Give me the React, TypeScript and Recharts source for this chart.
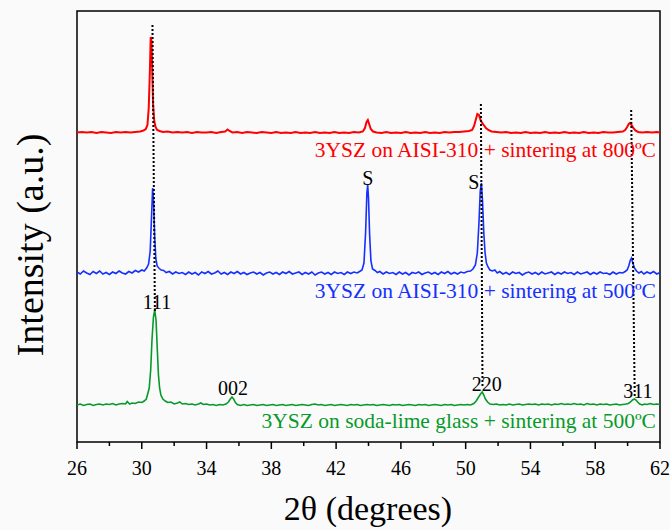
import { LineChart, Line, XAxis, YAxis, ReferenceLine, ReferenceDot, ReferenceArea, Label } from "recharts";

// [2θ, intensity above the trace's own baseline]
const redPattern: [number, number][] = [
  [26.0, 0.5], [26.3, 1], [26.6, 0.5], [26.9, 1], [27.2, 0], [27.5, 1], [27.8, 0.5], [28.1, 0], [28.4, 1], [28.7, 0.5],
  [29.0, 1], [29.3, 0.5], [29.6, 1], [29.9, 1.5], [30.1, 2.5], [30.25, 4], [30.35, 8], [30.43, 25], [30.5, 62], [30.55, 96],
  [30.6, 92], [30.65, 60], [30.7, 28], [30.77, 12], [30.85, 6], [30.95, 3], [31.1, 2], [31.3, 1], [31.6, 1.5], [31.9, 0.5],
  [32.2, 1], [32.5, 0.5], [32.8, 1], [33.1, 0], [33.4, 1], [33.7, 0.5], [34.0, 0.5], [34.3, 1], [34.6, 0], [34.9, 1],
  [35.15, 1.5], [35.3, 3.5], [35.42, 2], [35.6, 0.5], [35.9, 1], [36.2, 0], [36.5, 1], [36.8, 0.5], [37.1, 0], [37.4, 1],
  [37.7, 0.5], [38.0, 0], [38.3, 1], [38.6, 0], [38.9, 0.5], [39.2, 0], [39.5, 1], [39.8, 0], [40.1, 0.5], [40.4, 0],
  [40.7, 1], [41.0, 0], [41.3, 0.5], [41.6, 0], [41.9, 1], [42.2, 0], [42.5, 0.5], [42.8, 0], [43.1, 1], [43.4, 0.5],
  [43.65, 1.5], [43.78, 5], [43.88, 11], [43.96, 13], [44.04, 9], [44.14, 4], [44.28, 1.5], [44.5, 0.5], [44.8, 0], [45.1, 1],
  [45.4, 0], [45.7, 0.5], [46.0, 0], [46.3, 1], [46.6, 0], [46.9, 0.5], [47.2, 0], [47.5, 1], [47.8, 0], [48.1, 0.5],
  [48.4, 0], [48.7, 1], [49.0, 0.5], [49.3, 1], [49.6, 1], [49.9, 1.5], [50.2, 2], [50.4, 3], [50.52, 7], [50.62, 13],
  [50.72, 19], [50.82, 18], [50.92, 13], [51.02, 10], [51.12, 8], [51.25, 5], [51.4, 3], [51.6, 1.5], [51.9, 1], [52.2, 0.5],
  [52.5, 1], [52.8, 0], [53.1, 0.5], [53.4, 0], [53.7, 1], [54.0, 0], [54.3, 0.5], [54.6, 0], [54.9, 1], [55.2, 0],
  [55.5, 0.5], [55.8, 0], [56.1, 1], [56.4, 0], [56.7, 0.5], [57.0, 0], [57.3, 1], [57.6, 0], [57.9, 0.5], [58.2, 0],
  [58.5, 1], [58.8, 0.5], [59.1, 0.5], [59.4, 1], [59.7, 1.5], [59.85, 3], [59.97, 6], [60.07, 9], [60.15, 10], [60.25, 8],
  [60.35, 5], [60.48, 2.5], [60.65, 1], [60.9, 0.5], [61.2, 1], [61.5, 0.5], [61.8, 1], [62.0, 0.5],
];

const bluePattern: [number, number][] = [
  [26.0, 1], [26.2, -1], [26.4, 2], [26.6, 0], [26.8, -1.5], [27.0, 1.5], [27.2, -0.5], [27.4, 2], [27.6, -1], [27.8, 0.5],
  [28.0, -1.5], [28.2, 1], [28.4, -0.5], [28.6, 2], [28.8, 0], [29.0, -1], [29.2, 1.5], [29.4, 0], [29.6, 2.5], [29.8, 1],
  [30.0, 3], [30.15, 2], [30.3, 5], [30.42, 9], [30.52, 22], [30.6, 55], [30.67, 85], [30.73, 70], [30.8, 35], [30.87, 14],
  [30.95, 7], [31.05, 5], [31.2, 3], [31.35, 2.5], [31.5, 0.5], [31.7, 1.5], [31.9, -1], [32.1, 1], [32.3, -0.5], [32.5, 0.5],
  [32.7, -1.5], [32.9, 1], [33.1, -1], [33.3, 0.5], [33.5, -2], [33.7, 1], [33.9, -0.5], [34.1, 1.5], [34.3, -1], [34.5, 0],
  [34.7, 2], [34.9, -1], [35.1, 0.5], [35.3, -1.5], [35.5, 1], [35.7, -0.5], [35.9, 1.5], [36.1, -1], [36.3, 0.5], [36.5, -1.5],
  [36.7, 0], [36.9, 1], [37.1, -1], [37.3, 0.5], [37.5, -2], [37.7, 0], [37.9, 1], [38.1, -1], [38.3, 0.5], [38.5, -1.5],
  [38.7, 1], [38.9, -0.5], [39.1, 1.5], [39.3, -1], [39.5, 0], [39.7, 1], [39.9, -1.5], [40.1, 0.5], [40.3, -1], [40.5, 1],
  [40.7, -2], [40.9, 0], [41.1, 1], [41.3, -1], [41.5, 0.5], [41.7, -1.5], [41.9, 1], [42.1, -0.5], [42.3, 0.5], [42.5, -1.5],
  [42.7, 1], [42.9, -0.5], [43.1, 1], [43.3, 0], [43.45, 1.5], [43.6, 3], [43.72, 10], [43.82, 40], [43.9, 80], [43.95, 88],
  [44.0, 75], [44.07, 38], [44.15, 12], [44.25, 4], [44.4, 2.5], [44.55, 0.5], [44.7, 1.5], [44.9, -1], [45.1, 1], [45.3, -0.5],
  [45.5, 0.5], [45.7, -1.5], [45.9, 1], [46.1, -1], [46.3, 0.5], [46.5, -2], [46.7, 0.5], [46.9, -0.5], [47.1, 1], [47.3, -1.5],
  [47.5, 0], [47.7, 1], [47.9, -1], [48.1, 0.5], [48.3, -1.5], [48.5, 1], [48.7, -0.5], [48.9, 1.5], [49.1, -1], [49.3, 0.5],
  [49.5, -1], [49.7, 1], [49.9, 0], [50.1, 1.5], [50.3, 2], [50.45, 4], [50.6, 8], [50.72, 20], [50.82, 50], [50.9, 82],
  [50.97, 90], [51.04, 72], [51.12, 40], [51.2, 20], [51.28, 10], [51.38, 6], [51.5, 3], [51.65, 2], [51.8, 3], [51.95, 0],
  [52.1, 1.5], [52.3, -1], [52.5, 0.5], [52.7, -1.5], [52.9, 1], [53.1, -0.5], [53.3, 0.5], [53.5, -2], [53.7, 0], [53.9, 1],
  [54.1, -1], [54.3, 0.5], [54.5, -1.5], [54.7, 1], [54.9, -1], [55.1, 0], [55.3, 1], [55.5, -1.5], [55.7, 0.5], [55.9, -1],
  [56.1, 1], [56.3, -0.5], [56.5, 0.5], [56.7, -1.5], [56.9, 1], [57.1, -1], [57.3, 0], [57.5, 1], [57.7, -1.5], [57.9, 0.5],
  [58.1, -1], [58.3, 1], [58.5, -0.5], [58.7, 0], [58.9, -1.5], [59.1, 1], [59.3, -1], [59.5, 0.5], [59.7, 0], [59.85, 1.5],
  [59.97, 3], [60.07, 7], [60.17, 13], [60.24, 15], [60.32, 10], [60.42, 5], [60.55, 2], [60.7, 0], [60.85, 1.5], [61.0, -1],
  [61.2, 1], [61.4, -0.5], [61.6, 1.5], [61.8, -1], [62.0, 0.5],
];

const greenPattern: [number, number][] = [
  [26.0, 0], [26.2, 1], [26.4, -0.5], [26.6, 0.5], [26.8, 1], [27.0, -0.5], [27.2, 0.5], [27.4, 1], [27.6, 0], [27.8, 1],
  [28.0, 0.5], [28.2, 1.5], [28.4, 0], [28.6, 1], [28.8, 1.5], [29.0, 1], [29.1, 3.5], [29.25, 1], [29.4, 2], [29.6, 1.5],
  [29.8, 3], [30.0, 2.5], [30.15, 4], [30.28, 6], [30.38, 12], [30.46, 17], [30.55, 35], [30.63, 65], [30.72, 88], [30.8, 95],
  [30.88, 85], [30.96, 55], [31.03, 30], [31.1, 17], [31.18, 10], [31.3, 6], [31.45, 4], [31.6, 2.5], [31.8, 3], [32.0, 1],
  [32.2, 2], [32.35, 3], [32.5, 1], [32.7, 1.5], [32.9, 0.5], [33.1, 1], [33.3, 0], [33.5, 1], [33.65, 2], [33.8, 0.5],
  [34.0, 1], [34.2, 0], [34.4, 0.5], [34.6, -0.5], [34.8, 0.5], [35.0, 0], [35.2, 1], [35.35, 3], [35.47, 6], [35.57, 8],
  [35.67, 6], [35.78, 2.5], [35.9, 0.5], [36.1, -0.5], [36.3, 0.5], [36.5, -0.5], [36.7, 0], [36.9, 0.5], [37.1, -0.5], [37.3, 0],
  [37.5, 0.5], [37.7, -0.5], [37.9, 0], [38.1, 0.5], [38.3, -0.5], [38.5, 0], [38.7, 0.5], [38.9, -0.5], [39.1, 0], [39.3, 0.5],
  [39.5, -0.5], [39.7, 0], [39.9, 0.5], [40.1, 0], [40.3, -0.5], [40.5, 0.5], [40.7, 1], [40.9, 0], [41.1, 0.5], [41.3, -0.5],
  [41.5, 0], [41.7, 0.5], [41.9, -0.5], [42.1, 0], [42.3, 0.5], [42.5, 0], [42.7, -0.5], [42.9, 0.5], [43.1, 0], [43.3, 0.5],
  [43.5, -0.5], [43.7, 0], [43.9, 0.5], [44.1, 0], [44.3, 0.5], [44.5, -0.5], [44.7, 0], [44.9, 0.5], [45.1, 0], [45.3, -0.5],
  [45.5, 0.5], [45.7, 0], [45.9, 0.5], [46.1, -0.5], [46.3, 0], [46.5, 0.5], [46.7, 0], [46.9, -0.5], [47.1, 0.5], [47.3, 0],
  [47.5, 0.5], [47.7, -0.5], [47.9, 0], [48.1, 0.5], [48.3, 0], [48.5, -0.5], [48.7, 0.5], [48.9, 0], [49.1, 0.5], [49.3, -0.5],
  [49.5, 0], [49.7, 0.5], [49.9, 0], [50.1, 0.5], [50.3, 0], [50.5, 1.5], [50.65, 4], [50.8, 8], [50.92, 11], [51.02, 13],
  [51.12, 10], [51.22, 6], [51.35, 3], [51.5, 1], [51.7, 0.5], [51.9, 1], [52.1, 0], [52.3, 0.5], [52.5, 0], [52.7, 1],
  [52.9, 0], [53.1, 0.5], [53.3, 1], [53.5, 0], [53.7, 0.5], [53.9, 1], [54.1, 0.5], [54.3, 1], [54.5, 0], [54.7, 1],
  [54.9, 0.5], [55.1, 1], [55.3, 0], [55.5, 1], [55.7, 0.5], [55.9, 1.5], [56.1, 0.5], [56.3, 1], [56.5, 0.5], [56.7, 1.5],
  [56.9, 0.5], [57.1, 1], [57.3, 0], [57.5, 1.5], [57.7, 0.5], [57.9, 1], [58.1, 0], [58.3, 1], [58.5, 0.5], [58.7, 1],
  [58.9, 0], [59.1, 0.5], [59.3, 1], [59.5, 0], [59.7, 0.5], [59.9, 1], [60.05, 1.5], [60.18, 3], [60.3, 5], [60.42, 6],
  [60.52, 5], [60.62, 3], [60.75, 1], [60.9, 0], [61.05, 1], [61.2, 0.5], [61.4, 1.5], [61.6, 0.5], [61.8, 1], [62.0, 0.5],
];

// vertical offsets used to stack the three patterns
const redOffset = 309;
const blueOffset = 169;
const greenOffset = 37;

const xTicks = [26, 28, 30, 32, 34, 36, 38, 40, 42, 44, 46, 48, 50, 52, 54, 56, 58, 60, 62];
const majorTicks = [26, 30, 34, 38, 42, 46, 50, 54, 58, 62];

const seriesLabels = [
  { text: "3YSZ on AISI-310 + sintering at 800ºC", x: 61.75, y: 292, color: "#ff0000" },
  { text: "3YSZ on AISI-310 + sintering at 500ºC", x: 61.75, y: 151, color: "#1530ff" },
  { text: "3YSZ on soda-lime glass + sintering at 500ºC", x: 61.75, y: 21, color: "#079a2a" },
];

const peakLabels = [
  { text: "S", x: 43.96, y: 264 },
  { text: "S", x: 50.5, y: 260 },
  { text: "111", x: 30.94, y: 140 },
  { text: "002", x: 35.63, y: 54 },
  { text: "220", x: 51.3, y: 58 },
  { text: "311", x: 60.63, y: 51 },
];

const guideLines = [
  { x1: 30.66, y1: 417, x2: 30.81, y2: 131 },
  { x1: 50.94, y1: 338, x2: 51.04, y2: 54 },
  { x1: 60.22, y1: 332, x2: 60.44, y2: 44 },
];

const toPoints = (pattern: [number, number][], offset: number) =>
  pattern.map(([x, y]) => ({ x, y: y + offset }));

const serif = '"Liberation Serif", "Times New Roman", serif';

const renderTick = (props: any) => {
  const { x, y, payload } = props;
  const major = majorTicks.includes(payload.value);
  return (
    <g>
      <line x1={x} x2={x} y1={y} y2={y + (major ? 7 : 4)} stroke="#000" strokeWidth={1.5} />
      {major && (
        <text x={x} y={y + 33} textAnchor="middle" fontSize={20} fontFamily={serif} fill="#000">
          {payload.value}
        </text>
      )}
    </g>
  );
};

const textAt = (text: string, color: string, anchor: "middle" | "end", size: number) => (props: any) => {
  const vb = props.viewBox || {};
  return (
    <text
      x={vb.x}
      y={vb.y}
      textAnchor={anchor}
      dominantBaseline="central"
      fontSize={size}
      fontFamily={serif}
      fill={color}
    >
      {text}
    </text>
  );
};

export default function App() {
  return (
    <div
      style={{
        position: "absolute",
        left: 0,
        top: 0,
        width: 670,
        height: 530,
        background: "#fafafa",
        fontFamily: serif,
      }}
    >
      <LineChart width={670} height={530} margin={{ top: 11, right: 10, bottom: 0, left: 77 }}>
        <XAxis
          type="number"
          dataKey="x"
          domain={[26, 62]}
          ticks={xTicks}
          interval={0}
          tick={renderTick}
          tickLine={false}
          axisLine={false}
          tickSize={0}
          tickMargin={0}
          height={88}
          allowDataOverflow
        />
        <YAxis type="number" domain={[0, 431]} hide allowDataOverflow />
        <ReferenceArea x1={26} x2={62} y1={0} y2={431} fill="none" stroke="#000" strokeWidth={1.5} />
        <Line data={toPoints(greenPattern, greenOffset)} dataKey="y" type="linear" stroke="#079a2a" strokeWidth={1.6} dot={false} isAnimationActive={false} />
        <Line data={toPoints(bluePattern, blueOffset)} dataKey="y" type="linear" stroke="#1530ff" strokeWidth={1.6} dot={false} isAnimationActive={false} />
        <Line data={toPoints(redPattern, redOffset)} dataKey="y" type="linear" stroke="#ff0000" strokeWidth={2} dot={false} isAnimationActive={false} />
        {guideLines.map((g, i) => (
          <ReferenceLine
            key={i}
            segment={[{ x: g.x1, y: g.y1 }, { x: g.x2, y: g.y2 }]}
            stroke="#000"
            strokeWidth={2}
            strokeDasharray="2 2"
          />
        ))}
        {peakLabels.map((p, i) => (
          <ReferenceDot key={`p${i}`} x={p.x} y={p.y} r={0} fill="none" stroke="none">
            <Label content={textAt(p.text, "#000", "middle", 20)} />
          </ReferenceDot>
        ))}
        {seriesLabels.map((s, i) => (
          <ReferenceDot key={`s${i}`} x={s.x} y={s.y} r={0} fill="none" stroke="none">
            <Label content={textAt(s.text, s.color, "end", 21.5)} />
          </ReferenceDot>
        ))}
      </LineChart>
      <svg width={670} height={530} style={{ position: "absolute", left: 0, top: 0, pointerEvents: "none" }}>
        <text x={368} y={520} textAnchor="middle" fontSize={34} fontFamily={serif} fill="#000">
          2θ (degrees)
        </text>
        <text
          x={30}
          y={245}
          transform="rotate(-90 30 245)"
          textAnchor="middle"
          dominantBaseline="central"
          fontSize={38}
          fontFamily={serif}
          fill="#000"
        >
          Intensity (a.u.)
        </text>
      </svg>
    </div>
  );
}
